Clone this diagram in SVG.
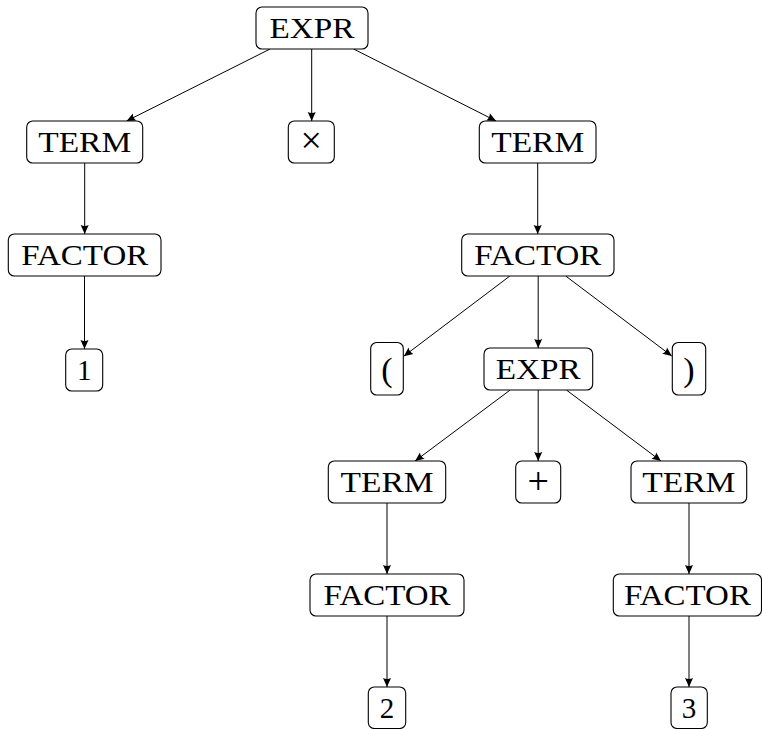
<svg xmlns="http://www.w3.org/2000/svg" width="762" height="729" viewBox="0 0 762 729">
  <style>
    .box { fill: #ffffff; stroke: #000000; stroke-width: 1.1; }
    .lbl { font-family: "Liberation Serif", "DejaVu Serif", serif; font-size: 29px; fill: #000000; text-anchor: middle; }
    .sym { font-size: 38px; }
    .par { font-size: 34px; }
    .edge { stroke: #000000; stroke-width: 1; fill: none; marker-end: url(#tip); }
  </style>
  <defs>
    <marker id="tip" markerUnits="userSpaceOnUse" markerWidth="12" markerHeight="12" viewBox="-10 -6 12 12" refX="0" refY="0" orient="auto">
      <path d="M0,0 L-9,-4 Q-6.8,0 -9,4 Z" fill="#000000"/>
    </marker>
  </defs>
  <rect width="762" height="729" fill="#ffffff"/>

  <g id="connectors">
    <line class="edge" x1="270.1" y1="49" x2="126.6" y2="121"/>
    <line class="edge" x1="311.7" y1="49" x2="311.7" y2="121"/>
    <line class="edge" x1="353.6" y1="49" x2="496.1" y2="121"/>
    <line class="edge" x1="84.7" y1="163" x2="84.7" y2="234"/>
    <line class="edge" x1="84.5" y1="276" x2="84.5" y2="349"/>
    <line class="edge" x1="537.7" y1="163" x2="537.7" y2="234"/>
    <line class="edge" x1="509.9" y1="276" x2="403.8" y2="356.2"/>
    <line class="edge" x1="538.2" y1="276" x2="538.2" y2="348"/>
    <line class="edge" x1="565.7" y1="276" x2="671.8" y2="356"/>
    <line class="edge" x1="510.2" y1="390" x2="415.1" y2="461"/>
    <line class="edge" x1="538.2" y1="390" x2="538.2" y2="461"/>
    <line class="edge" x1="566.4" y1="390" x2="661" y2="461"/>
    <line class="edge" x1="387" y1="503" x2="387" y2="574"/>
    <line class="edge" x1="387" y1="616" x2="387" y2="687"/>
    <line class="edge" x1="689" y1="503" x2="689" y2="574"/>
    <line class="edge" x1="689" y1="616" x2="689" y2="687"/>
  </g>

  <g id="expr-root">
    <rect class="box" x="256" y="7" width="112" height="42" rx="6"/>
    <text class="lbl" x="312" y="37.7" textLength="85" lengthAdjust="spacingAndGlyphs">EXPR</text>
  </g>
  <g id="term-a">
    <rect class="box" x="26.7" y="121" width="116" height="42" rx="6"/>
    <text class="lbl" x="84.7" y="151.7" textLength="93" lengthAdjust="spacingAndGlyphs">TERM</text>
  </g>
  <g id="times">
    <rect class="box" x="288.3" y="121" width="46" height="42" rx="6"/>
    <text class="lbl sym" x="311.3" y="153">×</text>
  </g>
  <g id="term-b">
    <rect class="box" x="479.3" y="121" width="116.7" height="42" rx="6"/>
    <text class="lbl" x="537.7" y="151.7" textLength="93" lengthAdjust="spacingAndGlyphs">TERM</text>
  </g>
  <g id="factor-a">
    <rect class="box" x="8.3" y="234" width="152.7" height="42" rx="6"/>
    <text class="lbl" x="84.7" y="264.7" textLength="127" lengthAdjust="spacingAndGlyphs">FACTOR</text>
  </g>
  <g id="factor-b">
    <rect class="box" x="461.7" y="234" width="152.3" height="42" rx="6"/>
    <text class="lbl" x="537.8" y="264.7" textLength="127" lengthAdjust="spacingAndGlyphs">FACTOR</text>
  </g>
  <g id="one">
    <rect class="box" x="65.7" y="349" width="37" height="42" rx="6"/>
    <text class="lbl" x="84.2" y="379.7">1</text>
  </g>
  <g id="lparen">
    <rect class="box" x="370.7" y="342.5" width="32.6" height="52.5" rx="6"/>
    <text class="lbl par" x="387" y="381">(</text>
  </g>
  <g id="expr-inner">
    <rect class="box" x="484" y="348" width="108.7" height="42" rx="6"/>
    <text class="lbl" x="538.3" y="378.7" textLength="85" lengthAdjust="spacingAndGlyphs">EXPR</text>
  </g>
  <g id="rparen">
    <rect class="box" x="672.3" y="342.5" width="33.4" height="52.5" rx="6"/>
    <text class="lbl par" x="689" y="381">)</text>
  </g>
  <g id="term-c">
    <rect class="box" x="328.3" y="461" width="117.4" height="42" rx="6"/>
    <text class="lbl" x="387" y="491.7" textLength="93" lengthAdjust="spacingAndGlyphs">TERM</text>
  </g>
  <g id="plus">
    <rect class="box" x="515.7" y="461" width="45" height="42" rx="6"/>
    <text class="lbl sym" x="538.2" y="494">+</text>
  </g>
  <g id="term-d">
    <rect class="box" x="631" y="461" width="115.7" height="42" rx="6"/>
    <text class="lbl" x="688.8" y="491.7" textLength="93" lengthAdjust="spacingAndGlyphs">TERM</text>
  </g>
  <g id="factor-c">
    <rect class="box" x="310" y="574" width="154" height="42" rx="6"/>
    <text class="lbl" x="387" y="604.7" textLength="127" lengthAdjust="spacingAndGlyphs">FACTOR</text>
  </g>
  <g id="factor-d">
    <rect class="box" x="613.3" y="574" width="148.2" height="42" rx="6"/>
    <text class="lbl" x="687.4" y="604.7" textLength="127" lengthAdjust="spacingAndGlyphs">FACTOR</text>
  </g>
  <g id="two">
    <rect class="box" x="368.3" y="687" width="37.4" height="41.5" rx="6"/>
    <text class="lbl" x="387" y="717.7">2</text>
  </g>
  <g id="three">
    <rect class="box" x="671" y="687" width="36.3" height="41.5" rx="6"/>
    <text class="lbl" x="689" y="717.7">3</text>
  </g>
</svg>
